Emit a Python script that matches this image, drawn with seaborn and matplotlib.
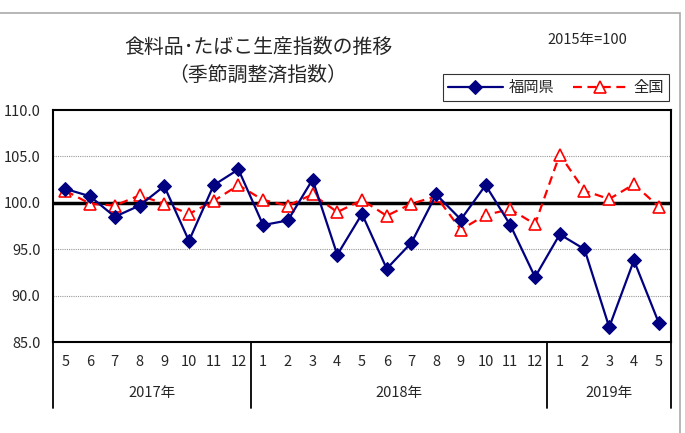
"""
食料品・たばこ生産指数の推移 (季節調整済指数) - 福岡県 vs 全国
"""

import numpy as np
import pandas as pd
import matplotlib
matplotlib.use("Agg")
import matplotlib.pyplot as plt
import seaborn as sns
from matplotlib.patches import Rectangle
from matplotlib.transforms import blended_transform_factory

months = ["5", "6", "7", "8", "9", "10", "11", "12",
          "1", "2", "3", "4", "5", "6", "7", "8", "9", "10", "11", "12",
          "1", "2", "3", "4", "5"]
years = ["2017年", "2018年", "2019年"]
year_counts = [8, 12, 5]

fukuoka = [101.5, 100.7, 98.5, 99.7, 101.8, 95.9, 101.9, 103.6,
           97.6, 98.1, 102.5, 94.4, 98.8, 92.9, 95.7, 100.9, 98.2, 101.9, 97.6, 92.0,
           96.6, 95.0, 86.6, 93.8, 87.1]
zenkoku = [101.3, 99.9, 99.7, 100.8, 99.9, 98.8, 100.2, 101.9,
           100.3, 99.7, 100.9, 99.0, 100.3, 98.6, 99.9, 100.7, 97.1, 98.7, 99.3, 97.7,
           105.2, 101.3, 100.4, 102.0, 99.6]

sns.set_style("white")
plt.rcParams["font.family"] = ["Noto Sans CJK JP", "DejaVu Sans"]

df = pd.DataFrame({"idx": np.arange(len(months)), "福岡県": fukuoka, "全国": zenkoku})

fig = plt.figure(figsize=(6.85, 4.33), dpi=100)
ax = fig.add_axes([53 / 685, 1 - 342 / 433, 618 / 685, 232 / 433])

# grid + base line
for v in [90, 95, 105]:
    ax.axhline(v, color="#999999", lw=0.8, ls=(0, (1, 1)), zorder=1)
ax.axhline(100, color="black", lw=2.5, zorder=2)

sns.lineplot(data=df, x="idx", y="全国", ax=ax, color="red", lw=1.6,
             linestyle=(0, (4, 2.5)), marker="^", markersize=9,
             markerfacecolor="white", markeredgecolor="red", markeredgewidth=1.2,
             label="全国", zorder=3)
sns.lineplot(data=df, x="idx", y="福岡県", ax=ax, color="#000080", lw=1.6,
             marker="D", markersize=7, markeredgecolor="#000080",
             label="福岡県", zorder=4)

ax.set_xlim(-0.5, len(months) - 0.5)
ax.set_ylim(85, 110)
ax.set_yticks(np.arange(85, 110.1, 5))
ax.set_yticklabels([f"{v:.1f}" for v in np.arange(85, 110.1, 5)], fontsize=10.5)
ax.set_xticks([])
ax.set_xlabel(""); ax.set_ylabel("")
ax.tick_params(axis="y", length=0, pad=9)
for s in ax.spines.values():
    s.set_color("black"); s.set_linewidth(1.5)

# month / year table below the axis
trans = blended_transform_factory(ax.transData, ax.transAxes)
for i, m in enumerate(months):
    ax.text(i, -0.086, m, transform=trans, ha="center", va="center", fontsize=10.5)
start = 0
seps = [-0.5]
for y, n in zip(years, year_counts):
    ax.text(start + (n - 1) / 2, -0.22, y, transform=trans, ha="center", va="center", fontsize=10.5)
    start += n
    seps.append(start - 0.5)
for x in seps:
    ax.plot([x, x], [0, -0.284], transform=trans, color="black", lw=1.3, clip_on=False)

# legend: 福岡県 first
handles, labels = ax.get_legend_handles_labels()
order = [labels.index("福岡県"), labels.index("全国")]
leg = fig.legend([handles[i] for i in order], [labels[i] for i in order],
                 loc="center", bbox_to_anchor=(556 / 685, 1 - 87.5 / 433), ncol=2,
                 fontsize=11, frameon=True, fancybox=False, edgecolor="black",
                 handlelength=3.6, columnspacing=1.2, handletextpad=0.4,
                 borderpad=0.3)
leg.get_frame().set_linewidth(0.8)
ax.get_legend().remove()

fig.text(258 / 685, 1 - 47 / 433, "食料品･たばこ生産指数の推移", ha="center", va="center", fontsize=14.3)
fig.text(258 / 685, 1 - 75 / 433, "（季節調整済指数）", ha="center", va="center", fontsize=14.3)
fig.text(587 / 685, 1 - 40 / 433, "2015年=100", ha="center", va="center", fontsize=10.5)

fig.patches.append(Rectangle((-0.01, -0.01), 680 / 685 + 0.01, 1 - 13 / 433 + 0.01,
                             transform=fig.transFigure, fill=False,
                             edgecolor="#aaaaaa", lw=1.2))

fig.savefig("out.png", dpi=100)
plt.close(fig)
